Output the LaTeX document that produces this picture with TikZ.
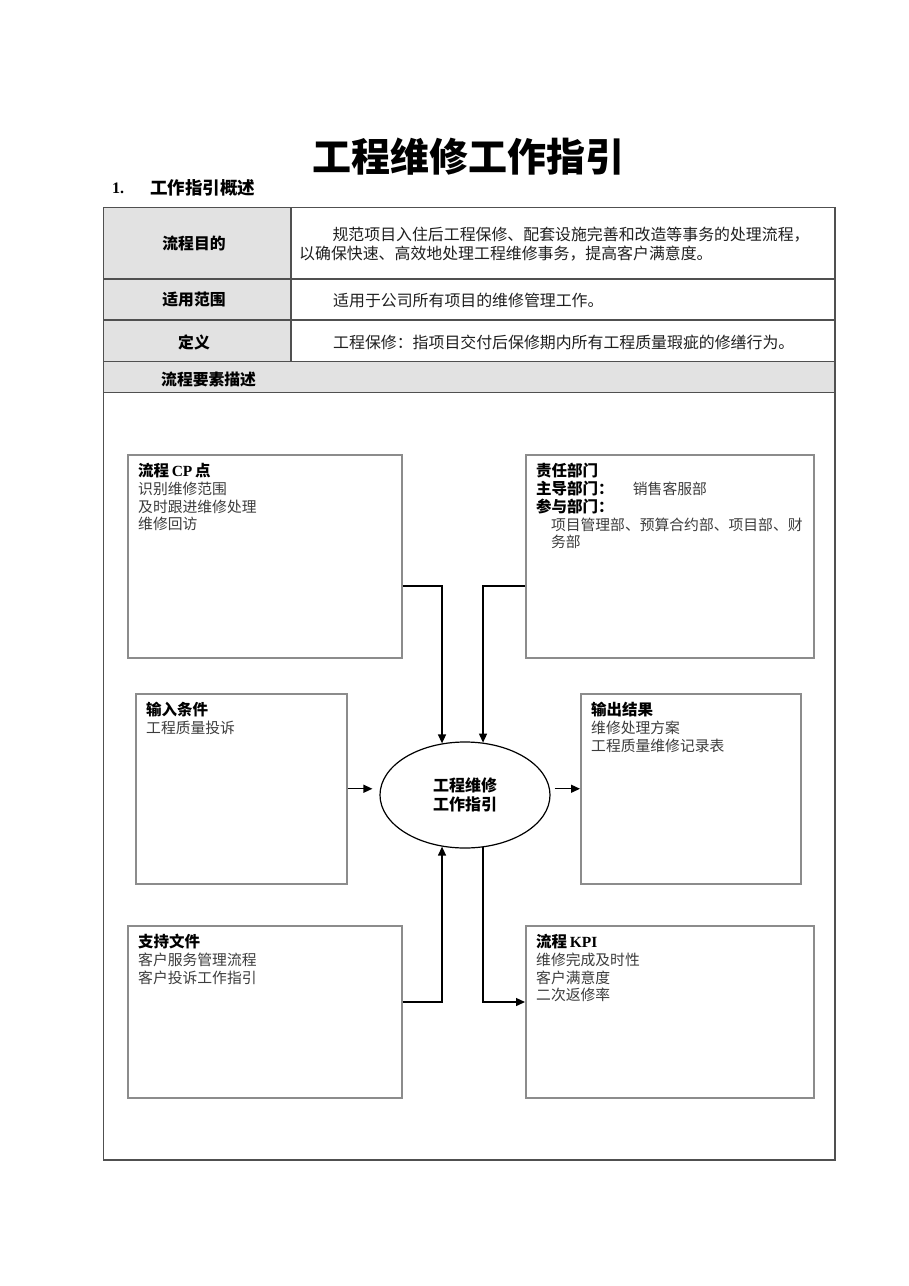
\documentclass[tikz,border=0pt]{standalone}
\usepackage{fontspec}
\setmainfont{Liberation Serif}
\newfontfamily\cjk{Noto Sans CJK SC}
\usetikzlibrary{shapes.geometric,arrows.meta}
\definecolor{cellgray}{HTML}{E2E2E2}
\definecolor{tline}{HTML}{505050}
\definecolor{boxline}{HTML}{8C8C8C}
\definecolor{bodytext}{HTML}{3C3C3C}
\newcommand\boxhead{\cjk\bfseries\fontsize{15.5}{17.8}\selectfont\color{black}}
\begin{document}
\begin{tikzpicture}[x=1pt,y=-1pt,
  tablerule/.style={draw=tline, line width=1.1pt},
  procbox/.style={draw=boxline, line width=1.5pt, rectangle, inner sep=0pt, anchor=north west},
  boxtext/.style={anchor=north west, inner sep=0pt, align=left, text=bodytext,
    font=\cjk\fontsize{14.8}{17.8}\selectfont},
  celllabel/.style={inner sep=0pt, font=\cjk\bfseries\fontsize{15.8}{19}\selectfont},
  celltext/.style={inner sep=0pt, anchor=west, align=left, text=black!88,
    font=\cjk\fontsize{15.9}{19}\selectfont},
  conn/.style={draw=black, line width=1.4pt},
  arr/.style={conn, -{Triangle[length=9pt,width=8pt]}}
]
\useasboundingbox (0,0) rectangle (909,1286);
\fill[white] (0,0) rectangle (909,1286);

% title
\node[inner sep=0pt, font=\cjk\bfseries\fontsize{39}{44}\selectfont] (title) at (468,157) {工程维修工作指引};
\node[inner sep=0pt, anchor=west, font=\bfseries\fontsize{16}{18}\selectfont] (secnum) at (112,188) {1.};
\node[inner sep=0pt, anchor=west, font=\cjk\bfseries\fontsize{17.5}{20}\selectfont] (sec) at (150,188) {工作指引概述};

% table
\fill[cellgray] (103.5,207.5) rectangle (291,361.5);
\fill[cellgray] (103.5,361.5) rectangle (835,392.5);
\draw[tablerule] (103.5,207.5) rectangle (835,1160);
\draw[tablerule] (103.5,279) -- (835,279);
\draw[tablerule] (103.5,320) -- (835,320);
\draw[tablerule] (103.5,361.5) -- (835,361.5);
\draw[tablerule] (103.5,392.5) -- (835,392.5);
\draw[tablerule] (291,207.5) -- (291,361.5);

\node[celllabel] (l1) at (194,243.5) {流程目的};
\node[celllabel] (l2) at (194,300) {适用范围};
\node[celllabel] (l3) at (194,342.5) {定义};
\node[celllabel, anchor=west] (l4) at (161,379.5) {流程要素描述};

\node[celltext] (t1) at (299,244.5) {\hspace*{2.1em}规范项目入住后工程保修、配套设施完善和改造等事务的处理流程，\\以确保快速、高效地处理工程维修事务，提高客户满意度。};
\node[celltext] (t2) at (333,300) {适用于公司所有项目的维修管理工作。};
\node[celltext] (t3) at (333,342.5) {工程保修：指项目交付后保修期内所有工程质量瑕疵的修缮行为。};

% boxes
\node[procbox, minimum width=274pt, minimum height=203pt] (cp) at (127,454) {};
\node[procbox, minimum width=288pt, minimum height=203pt] (duty) at (525,454) {};
\node[procbox, minimum width=211pt, minimum height=190pt] (inp) at (135,693) {};
\node[procbox, minimum width=220pt, minimum height=190pt] (outp) at (580,693) {};
\node[procbox, minimum width=274pt, minimum height=172pt] (supp) at (127,925) {};
\node[procbox, minimum width=288pt, minimum height=172pt] (kpi) at (525,925) {};

\node[ellipse, draw=black, line width=1.2pt, minimum width=170pt, minimum height=106pt, inner sep=0pt,
  align=center, font=\cjk\bfseries\fontsize{16}{19}\selectfont] (ell) at (465,795) {工程维修\\工作指引};

% box texts
\node[boxtext] (cpt) at ([xshift=11pt,yshift=-9pt]cp.north west)
  {{\boxhead 流程\,{\rmfamily CP}\,点}\\识别维修范围\\及时跟进维修处理\\维修回访};
\node[boxtext] (dutyt) at ([xshift=11pt,yshift=-9pt]duty.north west)
  {{\boxhead 责任部门}\\{\boxhead 主导部门：}\hspace{1.3em}销售客服部\\{\boxhead 参与部门：}\\\hspace*{1em}项目管理部、预算合约部、项目部、财\\\hspace*{1em}务部};
\node[boxtext] (inpt) at ([xshift=11pt,yshift=-9pt]inp.north west)
  {{\boxhead 输入条件}\\工程质量投诉};
\node[boxtext] (outpt) at ([xshift=11pt,yshift=-9pt]outp.north west)
  {{\boxhead 输出结果}\\维修处理方案\\工程质量维修记录表};
\node[boxtext] (suppt) at ([xshift=11pt,yshift=-9pt]supp.north west)
  {{\boxhead 支持文件}\\客户服务管理流程\\客户投诉工作指引};
\node[boxtext] (kpit) at ([xshift=11pt,yshift=-9pt]kpi.north west)
  {{\boxhead 流程\,{\rmfamily KPI}}\\维修完成及时性\\客户满意度\\二次返修率};

% connectors
\draw[arr] ([yshift=-132pt]cp.north east) -| (ell.114);
\draw[arr] ([yshift=-132pt]duty.north west) -| (ell.71);
\path (ell.west |- inp.east) coordinate (inend);
\draw[arr] (inp.east) -- ([xshift=-7pt]inend);
\path (ell.east |- outp.west) coordinate (outstart);
\draw[arr] ([xshift=4pt]outstart) -- (outp.west);
\draw[arr] ([yshift=-77pt]supp.north east) -| (ell.246);
\draw[arr] (ell.289) |- ([yshift=-77pt]kpi.north west);
\end{tikzpicture}
\end{document}
